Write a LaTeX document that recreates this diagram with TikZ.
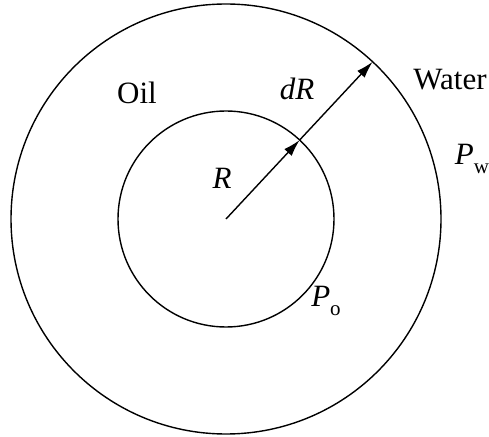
\documentclass[tikz,border=0pt]{standalone}
\usepackage{fontspec}
\setmainfont{Liberation Serif}
\usetikzlibrary{positioning,arrows.meta,calc}

\newcommand{\lowsub}[1]{\raisebox{-0.3em}{\fontsize{21}{24}\selectfont #1}}

\begin{document}
\begin{tikzpicture}[
    x=1pt, y=1pt,
    ring/.style={draw, circle, line width=1.4pt, inner sep=0pt, outer sep=0pt},
    label/.style={inner sep=0pt, font=\fontsize{31}{36}\selectfont},
    arrow/.style={-{Latex[length=17pt, width=10pt]}, line width=1.4pt}
]
\useasboundingbox (0,0) rectangle (489,436);

% Circles
\coordinate (c) at (226,217);
\node[ring, minimum size=430pt] (outer) at (c) {};
\node[ring, minimum size=216pt] (inner) at (c) {};

% Labels
\node[label] (oil) at (137,343) {Oil};
\node[label] (dr) at (297,347) {\textit{dR}};
\node[label] (water) at (450,356) {Water};
\node[label] (r) at (222,258) {\textit{R}};
\node[label] (pw) at (472,277) {\textit{P}\lowsub{w}};
\node[label] (po) at (326,135) {\textit{P}\lowsub{o}};

% Arrows
\draw[arrow] (c) -- (inner.47);
\draw[arrow] (inner.47) -- (outer.47);

\end{tikzpicture}
\end{document}
